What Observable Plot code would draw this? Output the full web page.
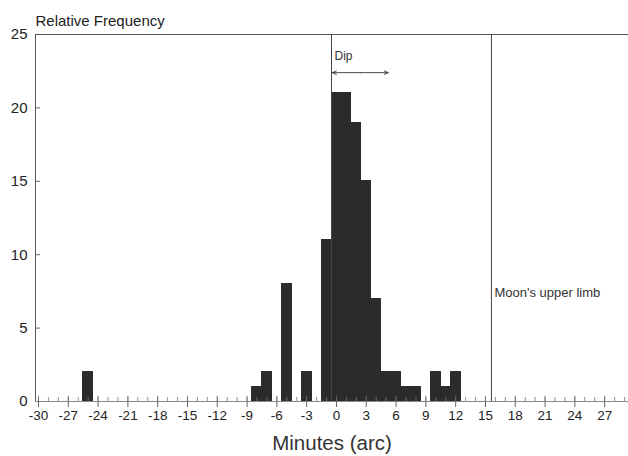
<!DOCTYPE html>
<html>
<head>
<meta charset="utf-8">
<script src="https://cdn.jsdelivr.net/npm/d3@7"></script>
<script src="https://cdn.jsdelivr.net/npm/@observablehq/plot@0.6"></script>
<style>
  html, body { margin: 0; padding: 0; background: #fff; }
  #chart svg { display: block; }
</style>
</head>
<body>
<div id="chart"></div>
<script>
// Histogram of observed offsets (arc minutes), one-minute bins centred on whole minutes
const binCenters = [-25, -8, -7, -5, -3, -1, 0, 1, 2, 3, 4, 5, 6, 7, 8, 10, 11, 12];
const frequencies = [2, 1, 2, 8, 2, 11, 21, 21, 19, 15, 7, 2, 2, 1, 1, 2, 1, 2];

const xMajorTicks = d3.range(-30, 28, 3);
const xMinorTicks = d3.range(-30, 30, 1);
const yTicks = [0, 5, 10, 15, 20, 25];

// Reference markers
const dipLine = -0.5;
const moonLimbLine = 15.6;
const dipArrowFrom = -0.4;
const dipArrowTo = 5.2;
const dipArrowLevel = 22.4;

const bins = binCenters.map((c, i) => ({x1: c - 0.5, x2: c + 0.5, y: frequencies[i]}));
const xMin = -30.3, xMax = 29.4;
const font = "'Liberation Sans', Arial, Helvetica, sans-serif";
const dipMid = (dipArrowFrom + dipArrowTo) / 2;

const chart = Plot.plot({
  width: 628,
  height: 456,
  marginLeft: 35,
  marginRight: 0,
  marginTop: 34,
  marginBottom: 55,
  style: {fontFamily: font, background: "#fff", color: "#222"},
  x: {domain: [xMin, xMax]},
  y: {domain: [0, 25]},
  marks: [
    // bars
    Plot.rectY(bins, {x1: "x1", x2: "x2", y: "y", fill: "#2b2b2b", stroke: "#2b2b2b", strokeWidth: 1, shapeRendering: "crispEdges"}),
    // frame: top border, left axis line, baseline
    Plot.ruleY([25], {x1: xMin, x2: xMax, stroke: "#555", strokeWidth: 1}),
    Plot.ruleX([xMin], {y1: 0, y2: 25, stroke: "#555", strokeWidth: 1}),
    Plot.ruleY([0], {x1: xMin, x2: xMax, stroke: "#888", strokeWidth: 1}),
    // vertical markers
    Plot.ruleX([dipLine], {y1: 0, y2: 25, stroke: "#444", strokeWidth: 1}),
    Plot.ruleX([moonLimbLine], {y1: 0, y2: 25, stroke: "#444", strokeWidth: 1}),
    // minor x ticks pointing up
    Plot.ruleX(xMinorTicks, {y1: 0, y2: 0.28, stroke: "#777", strokeWidth: 0.8}),
    // major x ticks, labels
    Plot.ruleX(xMajorTicks, {y1: 0, y2: 0.35, stroke: "#666", strokeWidth: 0.8}),
    Plot.axisX({ticks: xMajorTicks, tickSize: 6, tickPadding: 3, fontSize: 13.5, label: null, stroke: "#666",
      tickFormat: d => String(d)}),
    // y ticks drawn inward, labels outside
    Plot.ruleY(yTicks.filter(d => d > 0 && d < 25), {x1: xMin, x2: xMin + 0.5, stroke: "#666"}),
    Plot.axisY({ticks: yTicks, tickSize: 0, tickPadding: 8, fontSize: 15, label: null, tickFormat: d => String(d)}),
    // axis titles
    Plot.text(["Relative Frequency"], {frameAnchor: "top-left", lineAnchor: "middle", dx: 0, dy: -13,
      textAnchor: "start", fontSize: 15, fill: "#222"}),
    Plot.text(["Minutes (arc)"], {frameAnchor: "bottom", lineAnchor: "middle", dy: 42, fontSize: 20.5, fill: "#333"}),
    // annotations: double-headed dip arrow drawn as two arrows from its midpoint
    Plot.arrow([dipArrowFrom, dipArrowTo], {x1: dipMid, x2: d => d, y1: dipArrowLevel, y2: dipArrowLevel,
      stroke: "#333", strokeWidth: 0.9, headLength: 7, headAngle: 50, inset: 0}),
    Plot.text(["Dip"], {x: dipLine + 0.3, y: 23.5, textAnchor: "start", fontSize: 12, fill: "#333"}),
    Plot.text(["Moon's upper limb"], {x: moonLimbLine + 0.3, y: 7.4, textAnchor: "start", fontSize: 13, fill: "#333"})
  ]
});

document.getElementById("chart").appendChild(chart);
</script>
</body>
</html>
